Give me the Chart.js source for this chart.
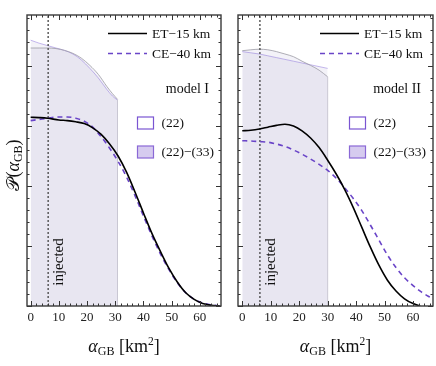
<!DOCTYPE html>
<html><head><meta charset="utf-8">
<script src="https://cdn.jsdelivr.net/npm/chart.js@4/dist/chart.umd.min.js"></script>
<style>
html,body{margin:0;padding:0;background:#fff;}
#wrap{position:relative;width:436px;height:366px;overflow:hidden;background:#fff;}
.p{position:absolute;top:0;height:366px;}
</style></head><body>
<div id="wrap">
<div class="p" style="left:0;width:226px"><canvas id="c1"></canvas></div>
<div class="p" style="left:226px;width:210px"><canvas id="c2"></canvas></div>
</div>
<script>
// ---------- data ----------
const xTickValues = [0, 10, 20, 30, 40, 50, 60];
const injectedAlpha = 6.2;
const yMaxValue = 0.0485;

// model I
const alphaI = [0,3,6,10,13,16,19,22,25,28,31,34,37,40,43,46,49,52,55,58,61,64,67];
const etI    = [0.03145,0.0314,0.0313,0.0310,0.0309,0.0307,0.0304,0.0297,0.0286,0.0270,0.0250,0.0223,0.0190,0.0155,0.0121,0.0091,0.0063,0.0040,0.0022,0.0011,0.0004,0.00012,0];
const ceI    = [0.0309,0.0311,0.0313,0.0315,0.0315,0.0313,0.0308,0.0298,0.0282,0.0263,0.0241,0.0215,0.0184,0.0150,0.0117,0.0087,0.0061,0.0039,0.0022,0.0011,0.0005,0.0002,0.00003];
const bandAlphaI = [0,3,6,9,12,15,18,21,24,27,29,30.8];
const band2233I  = [0.0430,0.0430,0.0430,0.0429,0.0426,0.0421,0.0413,0.0401,0.0386,0.0366,0.0354,0.03445];
const band22I    = [0.0443,0.0438,0.0434,0.0430,0.0426,0.0420,0.0410,0.0396,0.0380,0.0361,0.0350,0.0343];

// model II
const alphaIIet = [0,3,6,9,12,15,18,21,24,27,30,33,36,39,42,45,48,51,54,57,60,62.5];
const etII      = [0.0292,0.0293,0.0295,0.0298,0.0301,0.0303,0.0300,0.0292,0.0280,0.0264,0.0243,0.0220,0.0194,0.0164,0.0131,0.0098,0.0068,0.0043,0.0025,0.0012,0.0004,0];
const alphaIIce = [0,3,6,9,12,15,18,21,24,27,30,33,36,39,42,45,48,51,54,57,60,63,66.5];
const ceII      = [0.02755,0.0275,0.0274,0.0273,0.0270,0.0266,0.0260,0.0253,0.0245,0.0236,0.0226,0.0213,0.0197,0.0179,0.0159,0.0135,0.0110,0.0085,0.0064,0.0047,0.0034,0.0023,0.0013];
const bandAlphaII = [0,3,6,9,12,15,18,21,24,27,30];
const band2233II  = [0.04255,0.0427,0.0428,0.0427,0.0424,0.0420,0.04155,0.0408,0.0401,0.0393,0.0382];
const band22II    = [0.0424,0.0422,0.0420,0.0417,0.0414,0.0411,0.0408,0.0405,0.0402,0.0399,0.0396];

const legendLabels = ['ET\u221215 km', 'CE\u221240 km'];
const bandLabels = ['(22)', '(22)\u2212(33)'];
const modelNames = ['model I', 'model II'];

// ---------- helpers ----------
const SERIF = '"Liberation Serif", "DejaVu Serif", serif';
const PURPLE = '#6a45c8';
const BANDFILL = 'rgba(118,100,170,0.085)';
const pts = (xs, ys) => xs.map((x, i) => ({x: x, y: ys[i]}));

function drawRich(ctx, parts, x, y, align) {
  let w = 0;
  parts.forEach(p => { ctx.font = p.font; p.w = ctx.measureText(p.t).width; w += p.w; });
  let cx = align === 'center' ? x - w / 2 : (align === 'right' ? x - w : x);
  ctx.textAlign = 'left';
  parts.forEach(p => { ctx.font = p.font; ctx.fillText(p.t, cx, y + (p.dy || 0)); cx += p.w; });
}

function decor(panel) {
  return {
    id: 'decor' + panel.idx,
    afterDraw(chart) {
      const ctx = chart.ctx, a = chart.chartArea, xs = chart.scales.x, ys = chart.scales.y;
      ctx.save();
      // ticks (inward)
      ctx.strokeStyle = '#333'; ctx.lineWidth = 1;
      ctx.beginPath();
      const x0 = Math.ceil(xs.min / 2) * 2;
      for (let v = x0; v <= xs.max; v += 2) {
        const px = Math.round(xs.getPixelForValue(v)) + 0.5;
        const len = (v % 10 === 0) ? 5 : 2.5;
        ctx.moveTo(px, a.bottom); ctx.lineTo(px, a.bottom - len);
        ctx.moveTo(px, a.top); ctx.lineTo(px, a.top + len);
      }
      for (let i = 0; i * 0.002 <= ys.max + 1e-9; i++) {
        const py = Math.round(ys.getPixelForValue(i * 0.002)) + 0.5;
        const len = (i % 5 === 0) ? 5 : 2.5;
        ctx.moveTo(a.left, py); ctx.lineTo(a.left + len, py);
        ctx.moveTo(a.right, py); ctx.lineTo(a.right - len, py);
      }
      ctx.stroke();
      // frame
      ctx.strokeStyle = '#3a3a3a'; ctx.lineWidth = 1.4;
      ctx.strokeRect(a.left, a.top, a.right - a.left, a.bottom - a.top);

      // legend
      const r = a.right;
      ctx.fillStyle = '#111';
      ctx.textBaseline = 'middle';
      ctx.lineWidth = 1.6;
      ctx.strokeStyle = '#000'; ctx.setLineDash([]);
      ctx.beginPath(); ctx.moveTo(r - 113, 33.5); ctx.lineTo(r - 74, 33.5); ctx.stroke();
      ctx.strokeStyle = PURPLE; ctx.setLineDash([5, 4]);
      ctx.beginPath(); ctx.moveTo(r - 113, 53.5); ctx.lineTo(r - 74, 53.5); ctx.stroke();
      ctx.setLineDash([]);
      ctx.font = '13.5px ' + SERIF; ctx.textAlign = 'left';
      ctx.fillText(legendLabels[0], r - 69, 34);
      ctx.fillText(legendLabels[1], r - 69, 54);
      ctx.font = '14px ' + SERIF; ctx.textAlign = 'right';
      ctx.fillText(modelNames[panel.idx], r - 12, 89.5);
      // band legend boxes
      ctx.lineWidth = 1.2;
      ctx.fillStyle = '#fff'; ctx.strokeStyle = '#7a55d2';
      ctx.fillRect(r - 83.5, 117, 16, 12); ctx.strokeRect(r - 83.5, 117, 16, 12);
      ctx.fillStyle = '#d6cbef'; ctx.strokeStyle = '#8a68d6';
      ctx.fillRect(r - 83.5, 146, 16, 12); ctx.strokeRect(r - 83.5, 146, 16, 12);
      ctx.fillStyle = '#111'; ctx.font = '13.5px ' + SERIF; ctx.textAlign = 'left';
      ctx.fillText(bandLabels[0], r - 59.5, 123.5);
      ctx.fillText(bandLabels[1], r - 59.5, 152.5);

      // injected label
      ctx.save();
      ctx.translate(xs.getPixelForValue(injectedAlpha) + 11, 262);
      ctx.rotate(-Math.PI / 2);
      ctx.font = '15px ' + SERIF; ctx.textAlign = 'center'; ctx.textBaseline = 'middle';
      ctx.fillText('injected', 0, 0);
      ctx.restore();

      // x axis title
      ctx.fillStyle = '#111'; ctx.textBaseline = 'alphabetic';
      drawRich(ctx, [
        {t: '\u03b1', font: 'italic 18px ' + SERIF},
        {t: 'GB', font: '12px ' + SERIF, dy: 3},
        {t: ' [km', font: '18px ' + SERIF},
        {t: '2', font: '11.5px ' + SERIF, dy: -7},
        {t: ']', font: '18px ' + SERIF}
      ], (a.left + a.right) / 2, 352, 'center');

      // y axis title
      if (panel.idx === 0) {
        ctx.save();
        ctx.translate(19, 165);
        ctx.rotate(-Math.PI / 2);
        drawRich(ctx, [
          {t: '\ud835\udcab', font: '18px ' + SERIF + ', "DejaVu Sans"'},
          {t: '(', font: '18px ' + SERIF},
          {t: '\u03b1', font: 'italic 18px ' + SERIF},
          {t: 'GB', font: '12px ' + SERIF, dy: 3},
          {t: ')', font: '18px ' + SERIF}
        ], 0, 0, 'center');
        ctx.restore();
      }
      ctx.restore();
    }
  };
}

function makePanel(canvasId, panel) {
  const datasets = [
    {label: legendLabels[0], data: pts(panel.etX, panel.et), borderColor: '#000', borderWidth: 1.6,
     pointRadius: 0, cubicInterpolationMode: 'monotone', fill: false},
    {label: legendLabels[1], data: pts(panel.ceX, panel.ce), borderColor: PURPLE, borderWidth: 1.6,
     borderDash: [5, 4], pointRadius: 0, cubicInterpolationMode: 'monotone', fill: false},
    {label: 'injected', data: [{x: injectedAlpha, y: 0}, {x: injectedAlpha, y: yMaxValue}],
     borderColor: '#444', borderWidth: 1.3, borderDash: [2, 2], pointRadius: 0, fill: false},
    {label: 'edge', data: [{x: panel.bandX[panel.bandX.length - 1], y: 0},
                           {x: panel.bandX[panel.bandX.length - 1], y: panel.band2233[panel.band2233.length - 1]}],
     borderColor: '#c9c7d3', borderWidth: 1, pointRadius: 0, fill: false},
    {label: bandLabels[1], data: pts(panel.bandX, panel.band2233), borderColor: '#9b99a3', borderWidth: 0.8,
     backgroundColor: BANDFILL, fill: 'origin', pointRadius: 0, cubicInterpolationMode: 'monotone'},
    {label: bandLabels[0], data: pts(panel.bandX, panel.band22), borderColor: 'rgba(150,128,222,0.7)', borderWidth: 0.8,
     backgroundColor: BANDFILL, fill: 'origin', pointRadius: 0, cubicInterpolationMode: 'monotone'}
  ];
  return new Chart(document.getElementById(canvasId), {
    type: 'line',
    data: {datasets: datasets},
    options: {
      responsive: true, maintainAspectRatio: false, animation: false, devicePixelRatio: 1,
      layout: {padding: panel.pad},
      plugins: {legend: {display: false}, tooltip: {enabled: false}},
      scales: {
        x: {type: 'linear', min: panel.xmin, max: panel.xmax,
            grid: {display: false, drawTicks: false}, border: {display: false},
            ticks: {font: {family: SERIF, size: 13}, color: '#222', padding: 4, maxRotation: 0, autoSkip: false},
            afterBuildTicks: s => { s.ticks = xTickValues.map(v => ({value: v})); },
            afterFit: s => { s.height = 60; }},
        y: {type: 'linear', min: 0, max: yMaxValue,
            grid: {display: false, drawTicks: false}, border: {display: false},
            ticks: {display: false},
            afterFit: s => { s.width = 0; }}
      }
    },
    plugins: [decor(panel)]
  });
}

makePanel('c1', {idx: 0, xmin: -1.3, xmax: 67.5, pad: {left: 27, right: 5, top: 15, bottom: 0},
  etX: alphaI, et: etI, ceX: alphaI, ce: ceI, bandX: bandAlphaI, band2233: band2233I, band22: band22I});
makePanel('c2', {idx: 1, xmin: -1.5, xmax: 67, pad: {left: 12, right: 3, top: 15, bottom: 0},
  etX: alphaIIet, et: etII, ceX: alphaIIce, ce: ceII, bandX: bandAlphaII, band2233: band2233II, band22: band22II});
</script>
</body></html>
